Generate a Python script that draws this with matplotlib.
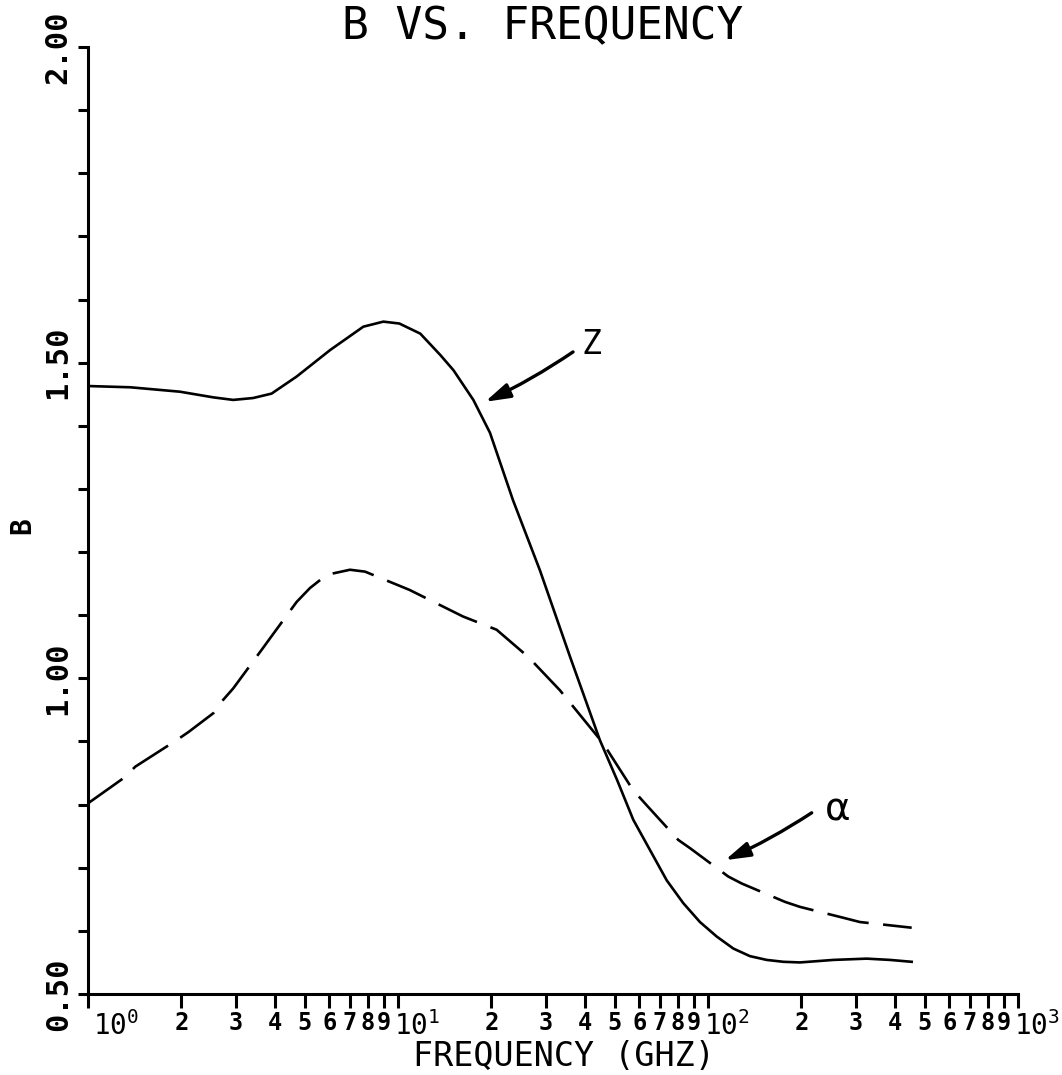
import matplotlib
matplotlib.use('Agg')
import matplotlib.pyplot as plt
import matplotlib.transforms as mtransforms
from matplotlib.ticker import NullLocator

# values (frequency in GHz, B)
z_freq = [1.0, 1.37, 1.98, 2.54, 2.94, 3.41, 3.91, 4.71, 6.04, 7.73, 8.97,
          10.1, 11.8, 13.7, 15.1, 17.5, 19.8, 23.5, 28.7, 35.9, 44.8, 50.9,
          57.4, 65.0, 73.6, 83.2, 94.2, 106.7, 120.7, 136.5, 154.6, 175.0,
          198.0, 254.0, 325.0, 386.0, 454.0]
z_b = [1.463, 1.461, 1.454, 1.445, 1.441, 1.444, 1.451, 1.478, 1.520, 1.557,
       1.565, 1.562, 1.546, 1.512, 1.488, 1.441, 1.389, 1.282, 1.171, 1.034,
       0.902, 0.839, 0.776, 0.728, 0.680, 0.644, 0.614, 0.591, 0.572, 0.560,
       0.554, 0.551, 0.550, 0.554, 0.556, 0.554, 0.551]

a_freq = [1.0, 1.32, 1.42, 1.93, 2.11, 2.54, 2.73, 2.94, 3.63, 3.86, 4.71,
          5.20, 5.89, 7.0, 7.83, 10.9, 16.2, 20.8, 24.1, 26.3, 33.3, 45.9,
          57.3, 63.4, 80.2, 87.5, 116.3, 128.5, 177.0, 198.0, 277.0, 309.0,
          454.0]
a_b = [0.802, 0.844, 0.860, 0.902, 0.915, 0.945, 0.966, 0.984, 1.045, 1.063,
       1.121, 1.143, 1.164, 1.172, 1.169, 1.140, 1.098, 1.077, 1.050, 1.034,
       0.981, 0.897, 0.823, 0.799, 0.744, 0.731, 0.686, 0.675, 0.646, 0.638,
       0.620, 0.614, 0.605]

decades = [1, 10, 100]
mantissas = [1, 2, 3, 4, 5, 6, 7, 8, 9]
decade_labels = [r'$\mathregular{10^{0}}$', r'$\mathregular{10^{1}}$',
                 r'$\mathregular{10^{2}}$', r'$\mathregular{10^{3}}$']
y_ticks = [0.5, 0.6, 0.7, 0.8, 0.9, 1.0, 1.1, 1.2, 1.3, 1.4, 1.5, 1.6, 1.7,
           1.8, 1.9, 2.0]
y_labels = ['0.50', '', '', '', '', '1.00', '', '', '', '', '1.50', '', '',
            '', '', '2.00']

plt.rcParams['font.family'] = ['DejaVu Sans Mono', 'DejaVu Sans']
plt.rcParams['mathtext.fontset'] = 'custom'
plt.rcParams['mathtext.rm'] = 'DejaVu Sans Mono'

fig = plt.figure(figsize=(10.62, 10.75), dpi=100)
ax = fig.add_axes([88 / 1062, 1 - 994 / 1075, (1018 - 88) / 1062, (994 - 47) / 1075])

ax.plot(z_freq, z_b, color='black', lw=1.9)
ax.plot(a_freq, a_b, color='black', lw=1.9, linestyle=(0, (16, 5.5)))

ax.set_xscale('log')
ax.set_xlim(1, 1000)
ax.set_ylim(0.5, 2.0)
for s in ['top', 'right']:
    ax.spines[s].set_visible(False)
for s in ['left', 'bottom']:
    ax.spines[s].set_linewidth(2.2)

# x ticks: 1..9 in each decade, decade labels as powers of ten
xt = []
xl = []
for i, d in enumerate(decades):
    for m in mantissas:
        xt.append(m * d)
        xl.append(decade_labels[i] if m == 1 else str(m))
xt.append(1000)
xl.append(decade_labels[3])
ax.xaxis.set_minor_locator(NullLocator())
ax.set_xticks(xt, xl)
ax.tick_params(axis='x', direction='out', length=10, width=2.2, pad=2, labelsize=17)
for lab in ax.get_xticklabels():
    lab.set_fontweight('bold')
    if lab.get_text().startswith('$'):
        lab.set_fontsize(20)
        lab.set_fontweight('normal')
        dx = 28 if lab.get_text() == decade_labels[0] else 19
        lab.set_transform(lab.get_transform() +
                          mtransforms.ScaledTranslation(dx / 100, 0, fig.dpi_scale_trans))

ax.set_yticks(y_ticks, y_labels)
ax.tick_params(axis='y', direction='out', length=7, width=2.2, pad=4,
               labelsize=22, labelrotation=90)
for lab in ax.get_yticklabels():
    lab.set_fontweight('bold')
    lab.set_va('center')

# arrows to the curves
arrow = dict(arrowstyle='-|>,head_length=1.5,head_width=0.45', color='black',
             lw=2.4, connectionstyle='arc3,rad=-0.04', shrinkA=0, shrinkB=0)
ax.annotate('', xy=(19.1, 1.438), xytext=(36.7, 1.517), arrowprops=arrow)
ax.text(42.2, 1.528, 'Z', fontsize=24, ha='center', va='center')
ax.annotate('', xy=(113.5, 0.712), xytext=(216, 0.787), arrowprops=arrow)
ax.text(262, 0.793, 'α', fontsize=28, ha='center', va='center',
        family=['DejaVu Sans'])

fig.text(543 / 1062, 1 - 27 / 1075, 'B VS. FREQUENCY', ha='center', va='center',
         fontsize=32)
fig.text(564 / 1062, 1 - 1057 / 1075, 'FREQUENCY (GHZ)', ha='center', va='center',
         fontsize=24)
fig.text(22 / 1062, 1 - 526 / 1075, 'B', ha='center', va='center', rotation=90,
         fontsize=20, fontweight='bold')

fig.savefig('out.png', dpi=100)
plt.close()
